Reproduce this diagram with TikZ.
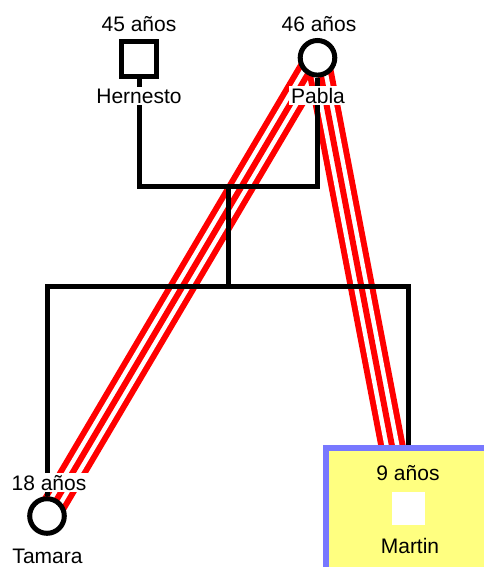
\documentclass[tikz,border=0pt]{standalone}
\usepackage{fontspec}
\setmainfont{Liberation Sans}
\usepackage{tikz}
\usetikzlibrary{backgrounds}
\definecolor{boxyellow}{HTML}{FFFF80}
\definecolor{boxblue}{HTML}{7878FF}

\begin{document}
\begin{tikzpicture}[x=1pt,y=-1pt]
            \tikzstyle{male}=[draw, rectangle, line width=5pt, fill=white, minimum size=35pt, inner sep=0pt]
            \tikzstyle{female}=[draw, circle, line width=5pt, fill=white, minimum size=34.6pt, inner sep=0pt]
            \tikzstyle{agetag}=[anchor=base, fill=white, inner sep=2pt, font=\fontsize{21}{25}\selectfont]
            \tikzstyle{nametag}=[agetag]
            \tikzstyle{boxtag}=[anchor=base, inner sep=2pt, font=\fontsize{21}{25}\selectfont]
            \tikzstyle{kin}=[line width=5pt, line join=miter]
            \tikzstyle{bond}=[draw=red, line width=27pt, postaction={draw=white, line width=15pt}, postaction={draw=red, line width=6pt}]
            \tikzstyle{focus}=[draw=boxblue, fill=boxyellow, line width=6pt, anchor=north west, minimum width=190pt, minimum height=150pt]
            \useasboundingbox (0,0) rectangle (483,567);
            \node[male] (hernesto) at (139,59) {};
            \node[female] (pabla) at (317.5,57.8) {};
            \node[female] (tamara) at (47,516) {};
            \node[agetag] (hernestoage) at (139,32) {45 años};
            \node[nametag] (hernestoname) at (139,103) {Hernesto};
            \node[agetag] (pablaage) at (319,32) {46 años};
            \node[nametag] (pablaname) at (318,103) {Pabla};
            \node[agetag] (tamaraage) at (49,490) {18 años};
            \node[nametag] (tamaraname) at (47.5,563) {Tamara};
            \node[focus] (martinbox) at (323,445) {};
            \node[fill=white, minimum size=33pt, inner sep=0pt] (martin) at (408.5,508.5) {};
            \node[boxtag] (martinage) at (408,480) {9 años};
            \node[boxtag] (martinname) at (410,553) {Martin};
            \coordinate (couple) at (228,186.5);
            \coordinate (sibs) at (228,286.5);
            \begin{scope}[on background layer]
                \draw[bond] (pabla.center) -- (tamara.center);
                \draw[bond] (pabla.center) -- ([xshift=-4.5pt]martin.center);
                \draw[kin] (hernesto.south) |- (couple) -| (pabla.south);
                \draw[kin] (couple) -- (sibs);
                \draw[kin] (tamara.north) |- (sibs) -| (martin.north);
            \end{scope}
\end{tikzpicture}
\end{document}
